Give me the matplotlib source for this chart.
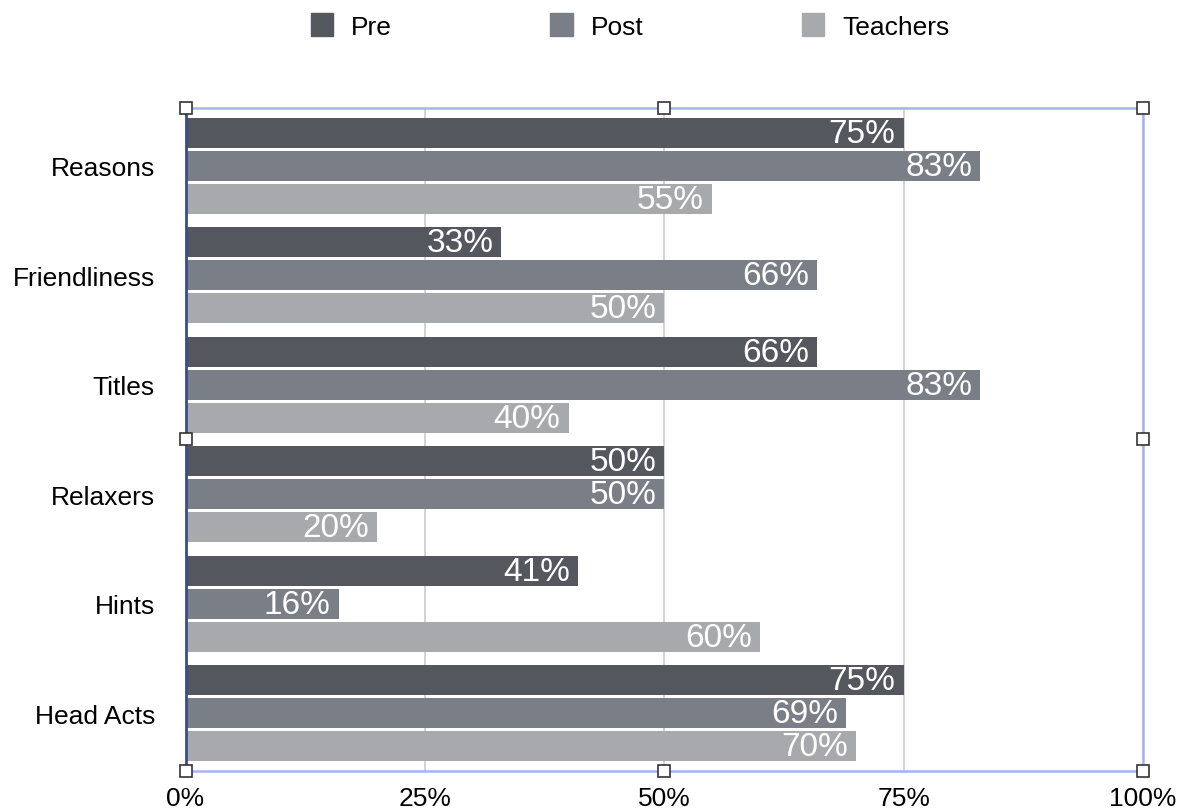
import matplotlib
matplotlib.use("Agg")
import matplotlib.pyplot as plt
from matplotlib.patches import Rectangle
import numpy as np

categories = ["Reasons", "Friendliness", "Titles", "Relaxers", "Hints", "Head Acts"]
series_names = ["Pre", "Post", "Teachers"]
pre = [75, 33, 66, 50, 41, 75]
post = [83, 66, 83, 50, 16, 69]
teachers = [55, 50, 40, 20, 60, 70]
xticks = [0, 25, 50, 75, 100]
xtick_labels = ["0%", "25%", "50%", "75%", "100%"]

colors = ["#54575d", "#7a7e86", "#a7a9ac"]

plt.rcParams['font.family'] = ['Liberation Sans', 'DejaVu Sans']

fig = plt.figure(figsize=(11.79, 8.12), dpi=100)
ax = fig.add_axes([185.5/1179, 1-771.5/812, (1143-185.5)/1179, (771.5-109.3)/812])

y = np.arange(len(categories))
h = 0.272
pitch = 0.301
for k, (vals, name) in enumerate(zip([pre, post, teachers], series_names)):
    ypos = y + (k - 1) * pitch
    ax.barh(ypos, vals, height=h, color=colors[k], label=name, zorder=2)
    for yy, v in zip(ypos, vals):
        ax.text(v - 0.85, yy + 0.005, f"{v}%", ha="right", va="center", color="white",
                fontsize=24, zorder=3)

ax.set_xlim(0, 100)
ax.set_ylim(len(categories) - 0.5 + 0.022, -0.5 - 0.024)
ax.set_xticks(xticks)
ax.set_xticklabels(xtick_labels, fontsize=19)
ax.set_yticks(y)
ax.set_yticklabels(categories, fontsize=19)
ax.tick_params(axis='both', length=0)
ax.tick_params(axis='y', pad=22)
ax.tick_params(axis='x', pad=11)
ax.xaxis.grid(True, color="#cfcfcf", linewidth=1.3, zorder=0)
ax.set_axisbelow(True)
for s in ["top", "right", "bottom"]:
    ax.spines[s].set_color("#a3b5ee")
    ax.spines[s].set_linewidth(1.8)
ax.spines["left"].set_color("#3c4b8c")
ax.spines["left"].set_linewidth(2)

# selection handles
for hx, hy in [(0, 0), (0.5, 0), (1, 0), (0, 0.5), (1, 0.5), (0, 1), (0.5, 1), (1, 1)]:
    ax.plot([hx], [hy], marker='s', markersize=9, markerfacecolor='white',
            markeredgecolor='#333333', markeredgewidth=1.2, transform=ax.transAxes,
            clip_on=False, zorder=5)

handles = [Rectangle((0, 0), 1, 1, color=c) for c in colors]
fig.legend(handles, series_names, loc="center", bbox_to_anchor=(630/1179, 1-27/812),
           ncol=3, frameon=False, fontsize=19, handlelength=0.85, handleheight=0.95,
           columnspacing=6.0, handletextpad=0.68)

fig.savefig("out.png", dpi=100)
